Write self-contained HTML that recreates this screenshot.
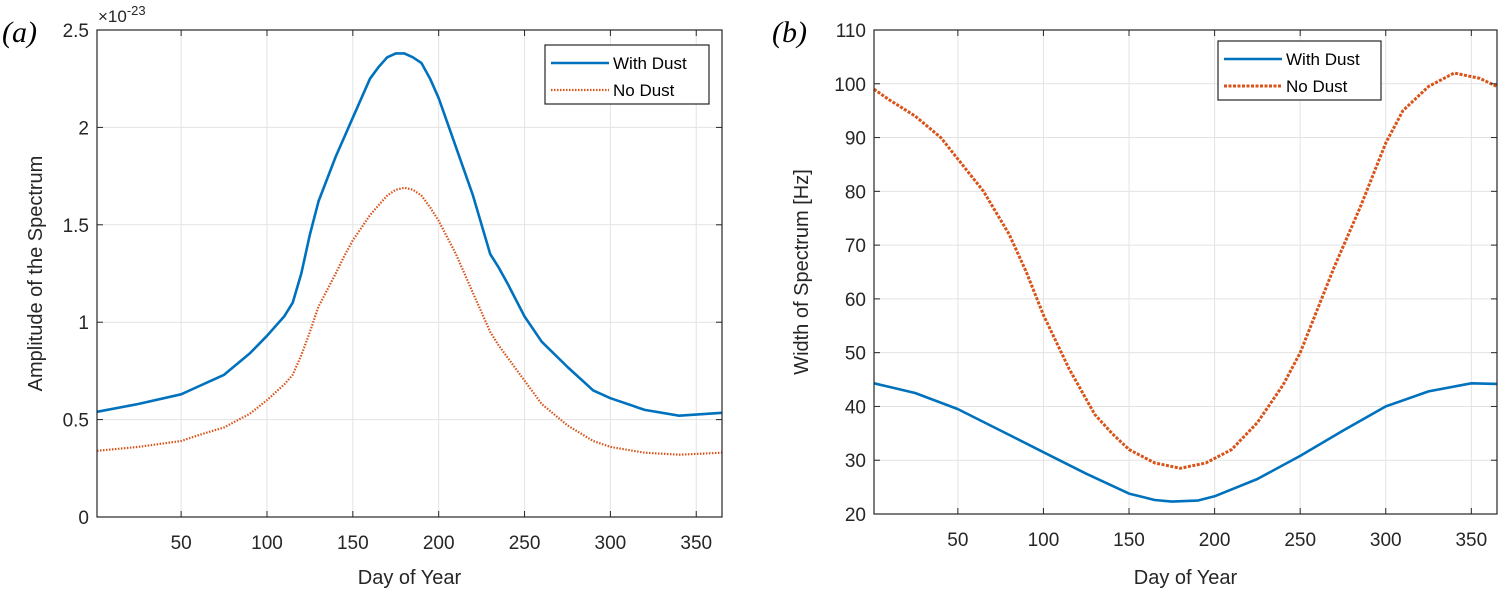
<!DOCTYPE html>
<html><head><meta charset="utf-8"><style>
body{margin:0;background:#fff;}
svg{display:block;font-family:"Liberation Sans",sans-serif;}
</style></head><body>
<svg id="chart" width="1503" height="589"></svg>
<script>
const daysA=[1,25,50,60,75,90,100,110,115,120,125,130,140,145,150,160,165,170,175,180,185,190,195,200,210,220,230,235,240,250,260,275,290,300,320,340,365];
const withDustA=[0.54,0.58,0.63,0.67,0.73,0.84,0.93,1.03,1.1,1.25,1.45,1.62,1.85,1.95,2.05,2.25,2.31,2.36,2.38,2.38,2.36,2.33,2.25,2.15,1.9,1.65,1.35,1.28,1.2,1.03,0.9,0.77,0.65,0.61,0.55,0.52,0.535];
const noDustA=[0.34,0.36,0.39,0.42,0.46,0.53,0.6,0.68,0.73,0.83,0.95,1.08,1.25,1.34,1.42,1.55,1.6,1.65,1.68,1.69,1.68,1.65,1.59,1.52,1.35,1.15,0.95,0.88,0.82,0.7,0.58,0.47,0.39,0.36,0.33,0.32,0.33];
const daysBw=[1,25,50,75,100,125,150,165,175,190,200,225,250,275,300,325,350,365];
const withDustB=[44.3,42.5,39.5,35.5,31.5,27.5,23.8,22.6,22.3,22.5,23.3,26.5,30.8,35.5,40,42.8,44.3,44.2];
const daysBn=[1,10,25,40,55,65,80,90,100,115,130,140,150,165,180,195,210,225,240,250,260,270,285,300,310,325,340,355,365];
const noDustB=[99,97,94,90,84,80,72,65,57,47,38.5,35,32,29.5,28.5,29.5,32,37,44,50,58,66,77,89,95,99.5,102,101,99.5];
const xTicks=[50,100,150,200,250,300,350];
const yTicksA=[0,0.5,1,1.5,2,2.5];
const yTicksA_labels=["0","0.5","1","1.5","2","2.5"];
const yTicksB=[20,30,40,50,60,70,80,90,100,110];

const svg=document.getElementById('chart');
const NS='http://www.w3.org/2000/svg';
function mk(tag,attrs,parent){const e=document.createElementNS(NS,tag);for(const k in attrs)e.setAttribute(k,attrs[k]);(parent||svg).appendChild(e);return e;}

function panel(o){
  const g=mk('g',{});
  
  
  const sx=d=>o.x0+(d-1)/(364)*(o.x1-o.x0);
  const sy=v=>o.y1-(v-o.ymin)/(o.ymax-o.ymin)*(o.y1-o.y0);
  xTicks.forEach(t=>{const l=mk('line',{x1:sx(t),x2:sx(t),y1:o.y0,y2:o.y1,stroke:'#e3e3e3','stroke-width':1},g);
    });
  o.yt.forEach(t=>{const l=mk('line',{x1:o.x0,x2:o.x1,y1:sy(t),y2:sy(t),stroke:'#e3e3e3','stroke-width':1},g);
    });
  o.series.forEach(s=>{
    const pts=s.d.map((d,i)=>sx(d).toFixed(1)+','+sy(s.v[i]).toFixed(1)).join(' ');
    const p=mk('polyline',{points:pts,fill:'none',stroke:s.c,'stroke-width':s.w,'stroke-dasharray':s.dash||'','stroke-linejoin':'round'},g);
    
  });
  const b=mk('rect',{x:o.x0,y:o.y0,width:o.x1-o.x0,height:o.y1-o.y0,fill:'none',stroke:'#262626','stroke-width':1.2},g);
  
  xTicks.forEach(t=>{
    mk('line',{x1:sx(t),x2:sx(t),y1:o.y1,y2:o.y1-6,stroke:'#262626'},g);
    mk('line',{x1:sx(t),x2:sx(t),y1:o.y0,y2:o.y0+6,stroke:'#262626'},g);
    const tx=mk('text',{x:sx(t),y:o.y1+32,'text-anchor':'middle','font-size':19,fill:'#262626'},g);tx.textContent=t;
    
  });
  o.yt.forEach((t,i)=>{
    mk('line',{x1:o.x0,x2:o.x0+6,y1:sy(t),y2:sy(t),stroke:'#262626'},g);
    mk('line',{x1:o.x1,x2:o.x1-6,y1:sy(t),y2:sy(t),stroke:'#262626'},g);
    const tx=mk('text',{x:o.x0-8,y:sy(t)+7,'text-anchor':'end','font-size':19,fill:'#262626'},g);tx.textContent=o.yl[i];
    
  });
  const xt=mk('text',{x:(o.x0+o.x1)/2,y:584,'text-anchor':'middle','font-size':20,fill:'#262626'},g);xt.textContent='Day of Year';
  
  const yt=mk('text',{x:0,y:0,transform:`translate(${o.ytx},${(o.y0+o.y1)/2}) rotate(-90)`,'text-anchor':'middle','font-size':20,fill:'#262626'},g);yt.textContent=o.ytitle;
  
  const pl=mk('text',{x:o.px,y:42,'font-size':30,'font-style':'italic','font-family':'Liberation Serif, serif',fill:'#000'},g);pl.textContent=o.plabel;
  
  const L=o.leg;
  const lg=mk('g',{},g);
  mk('rect',{x:L.x,y:L.y,width:L.w,height:L.h,fill:'#fff',stroke:'#262626','stroke-width':1.2},lg);
  o.series.forEach((s,i)=>{
    const yy=L.y+18+i*27;
    mk('line',{x1:L.x+6,x2:L.x+64,y1:yy,y2:yy,stroke:s.c,'stroke-width':s.w,'stroke-dasharray':s.dash||''},lg);
    const t=mk('text',{x:L.x+68,y:yy+6,'font-size':17,fill:'#000'},lg);t.textContent=s.label;
    
  });
  return sy;
}
panel({name:'panel-a',x0:97,x1:722,y0:30,y1:517,ymin:0,ymax:2.5,yt:yTicksA,yl:yTicksA_labels,ytitle:'Amplitude of the Spectrum',ytx:42,px:2,plabel:'(a)',
  leg:{x:545,y:45,w:164,h:59},
  series:[{name:'with-dust-line-a',label:'With Dust',d:daysA,v:withDustA,c:'#0072BD',w:2.6},
          {name:'no-dust-line-a',label:'No Dust',d:daysA,v:noDustA,c:'#D95319',w:2.2,dash:'1.5 1.5'}]});
const e=mk('text',{x:98,y:22,'font-size':17,fill:'#262626'});e.innerHTML='×10<tspan dy="-7" font-size="13">-23</tspan>';

panel({name:'panel-b',x0:874,x1:1497,y0:30,y1:514,ymin:20,ymax:110,yt:yTicksB,yl:yTicksB.map(String),ytitle:'Width of Spectrum [Hz]',ytx:808,px:772,plabel:'(b)',
  leg:{x:1218,y:41,w:163,h:59},
  series:[{name:'with-dust-line-b',label:'With Dust',d:daysBw,v:withDustB,c:'#0072BD',w:2.6},
          {name:'no-dust-line-b',label:'No Dust',d:daysBn,v:noDustB,c:'#D95319',w:3,dash:'3 1.5'}]});
</script>
</body></html>
